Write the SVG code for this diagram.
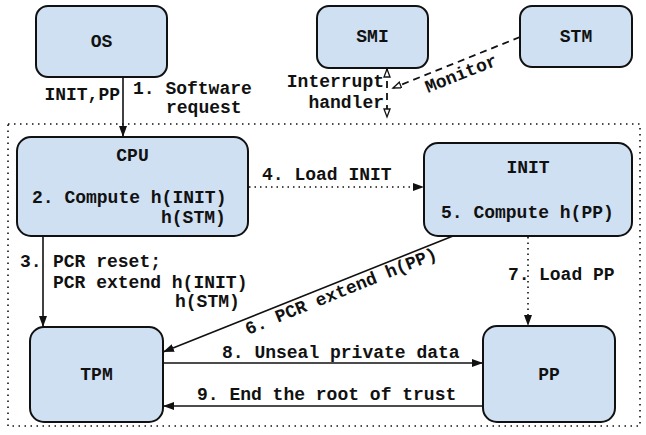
<svg xmlns="http://www.w3.org/2000/svg" width="646" height="435" viewBox="0 0 646 435">
<style>
.node rect{fill:#cfe0f2;stroke:#111;stroke-width:2}
text{font-family:"Liberation Mono","Courier New",monospace;font-size:18px;font-weight:bold;fill:#111}
.c{text-anchor:middle}
.e{text-anchor:end}
.solid{stroke:#111;stroke-width:1.6;fill:none}
.dot{stroke:#111;stroke-width:1.6;fill:none;stroke-dasharray:1.5 4}
.dash{stroke:#111;stroke-width:1.8;fill:none;stroke-dasharray:7 5}
.box{stroke:#111;stroke-width:1.6;fill:none;stroke-dasharray:1.5 4.5}
</style>
<defs>
<marker id="ah" markerUnits="userSpaceOnUse" markerWidth="12" markerHeight="10" refX="11" refY="4" orient="auto">
<path d="M0,0 L11,4 L0,8 z" fill="#111"/>
</marker>
<marker id="oh" markerUnits="userSpaceOnUse" markerWidth="11" markerHeight="9" refX="9" refY="3.5" orient="auto">
<path d="M1,0.5 L9,3.5 L1,6.5 z" fill="#fff" stroke="#111" stroke-width="1.3"/>
</marker>
<marker id="ohs" markerUnits="userSpaceOnUse" markerWidth="11" markerHeight="9" refX="1" refY="3.5" orient="auto">
<path d="M9,0.5 L1,3.5 L9,6.5 z" fill="#fff" stroke="#111" stroke-width="1.3"/>
</marker>
</defs>
<rect x="8" y="124" width="632" height="302" class="box"/>
<g id="connectors">
<line x1="123" y1="77" x2="123" y2="137" class="solid" marker-end="url(#ah)"/>
<line x1="43" y1="236" x2="43" y2="327" class="solid" marker-end="url(#ah)"/>
<line x1="249" y1="187" x2="424" y2="187" class="dot" marker-end="url(#ah)"/>
<line x1="453" y1="236" x2="163" y2="352" class="solid" marker-end="url(#ah)"/>
<line x1="528" y1="237" x2="528" y2="326" class="dot" marker-end="url(#ah)"/>
<line x1="163" y1="363" x2="483" y2="363" class="solid" marker-end="url(#ah)"/>
<line x1="483" y1="406" x2="163" y2="406" class="solid" marker-end="url(#ah)"/>
<line x1="520" y1="37" x2="393" y2="88" class="dash" marker-end="url(#oh)"/>
<line x1="387" y1="69" x2="387" y2="117" class="dash" marker-start="url(#ohs)" marker-end="url(#oh)"/>
</g>
<g id="OS" class="node"><rect x="36" y="6" width="131" height="71" rx="12"/><text x="101.5" y="47" class="c">OS</text></g>
<g id="SMI" class="node"><rect x="317" y="6" width="111" height="62" rx="12"/><text x="372.5" y="42" class="c">SMI</text></g>
<g id="STM" class="node"><rect x="520" y="6" width="112" height="61" rx="12"/><text x="576" y="42" class="c">STM</text></g>
<g id="CPU" class="node"><rect x="17" y="137" width="231" height="99" rx="14"/><text x="132.5" y="161" class="c">CPU</text><text x="32" y="203">2. Compute h(INIT)</text><text x="161" y="223">h(STM)</text></g>
<g id="INIT" class="node"><rect x="424" y="143" width="208" height="93" rx="14"/><text x="528" y="173" class="c">INIT</text><text x="441" y="218">5. Compute h(PP)</text></g>
<g id="TPM" class="node"><rect x="30" y="327" width="133" height="95" rx="14"/><text x="96.5" y="380" class="c">TPM</text></g>
<g id="PP" class="node"><rect x="483" y="326" width="132" height="96" rx="14"/><text x="549" y="380" class="c">PP</text></g>
<g id="labels">
<text x="120" y="100" class="e">INIT,PP</text>
<text x="133" y="94">1. Software</text>
<text x="166" y="113">request</text>
<text x="384" y="87" class="e">Interrupt</text>
<text x="384" y="108" class="e">handler</text>
<text x="0" y="0" transform="translate(428,93) rotate(-21.8)">Monitor</text>
<text x="262" y="180">4. Load INIT</text>
<text x="20" y="267">3.</text>
<text x="53" y="267">PCR reset;</text>
<text x="53" y="288">PCR extend h(INIT)</text>
<text x="175" y="307">h(STM)</text>
<text x="0" y="0" transform="translate(248,335) rotate(-22)">6. PCR extend h(PP)</text>
<text x="508" y="280">7.</text>
<text x="539" y="280">Load PP</text>
<text x="222" y="358">8. Unseal private data</text>
<text x="197" y="400">9. End the root of trust</text>
</g>
</svg>
